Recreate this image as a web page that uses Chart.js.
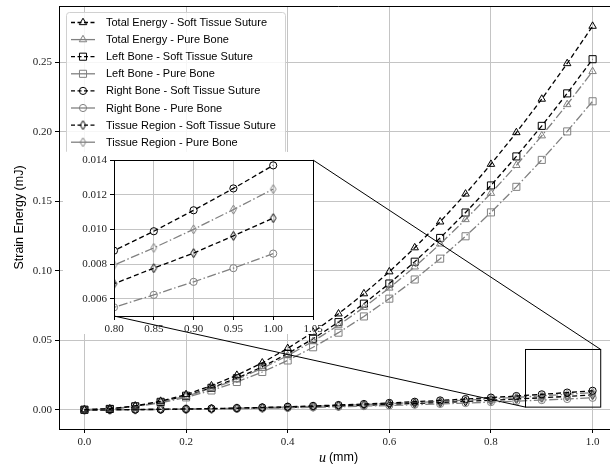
<!DOCTYPE html>
<html>
<head>
<meta charset="utf-8">
<script src="https://cdn.jsdelivr.net/npm/chart.js@4.4.0/dist/chart.umd.min.js"></script>
<style>
html, body { margin: 0; padding: 0; background: #fff; overflow: hidden; width: 610px; height: 467px; }
#wrap { position: relative; width: 625px; height: 467px; }
#wrap canvas { position: absolute; left: 0; top: 0; }
</style>
</head>
<body>
<div id="wrap">
    <canvas id="mainChart" width="625" height="467"></canvas>
    <canvas id="insetChart" width="625" height="467"></canvas>
</div>
<script>
// displacement u (mm)
const displacement = [0, 0.05, 0.10, 0.15, 0.20, 0.25, 0.30, 0.35, 0.40, 0.45, 0.50,
                      0.55, 0.60, 0.65, 0.70, 0.75, 0.80, 0.85, 0.90, 0.95, 1.00];

// strain energy (mJ)
const totalSoft = [0, 0.0007, 0.0028, 0.0062, 0.0110, 0.0173, 0.0249, 0.0338, 0.0442, 0.0559, 0.0691,
                   0.0836, 0.0994, 0.1167, 0.1353, 0.1554, 0.1768, 0.1996, 0.2237, 0.2493, 0.2762];
const totalPure = [0, 0.0006, 0.0024, 0.0055, 0.0097, 0.0152, 0.0219, 0.0298, 0.0390, 0.0493, 0.0609,
                   0.0737, 0.0877, 0.1029, 0.1194, 0.1370, 0.1559, 0.1760, 0.1973, 0.2198, 0.2436];
const leftSoft = [0, 0.0006, 0.0025, 0.0057, 0.0101, 0.0158, 0.0227, 0.0309, 0.0404, 0.0511, 0.0631,
                  0.0764, 0.0909, 0.1066, 0.1237, 0.1420, 0.1615, 0.1824, 0.2044, 0.2278, 0.2524];
const leftPure = [0, 0.0006, 0.0022, 0.0050, 0.0089, 0.0139, 0.0200, 0.0272, 0.0355, 0.0450, 0.0555,
                  0.0672, 0.0800, 0.0938, 0.1088, 0.1249, 0.1421, 0.1605, 0.1799, 0.2004, 0.2221];
const rightSoft = [0, 0.00003, 0.00014, 0.00031, 0.00055, 0.00086, 0.00123, 0.00168, 0.00219, 0.00277, 0.00342,
                   0.00414, 0.00493, 0.00578, 0.00671, 0.00770, 0.00877, 0.00989, 0.01110, 0.01236, 0.01369];
const rightPure = [0, 0.00002, 0.00009, 0.00019, 0.00034, 0.00054, 0.00077, 0.00105, 0.00138, 0.00174, 0.00215,
                   0.00260, 0.00310, 0.00363, 0.00421, 0.00484, 0.00550, 0.00622, 0.00697, 0.00776, 0.00860];
const tissueSoft = [0, 0.00003, 0.00011, 0.00024, 0.00043, 0.00067, 0.00096, 0.00130, 0.00170, 0.00216, 0.00266,
                    0.00322, 0.00383, 0.00450, 0.00522, 0.00599, 0.00686, 0.00776, 0.00863, 0.00962, 0.01065];
const tissuePure = [0, 0.00003, 0.00012, 0.00028, 0.00049, 0.00077, 0.00111, 0.00151, 0.00197, 0.00249, 0.00308,
                    0.00373, 0.00444, 0.00521, 0.00604, 0.00693, 0.00794, 0.00893, 0.01000, 0.01114, 0.01232];

const seriesLabels = [
    'Total Energy - Soft Tissue Suture', 'Total Energy - Pure Bone',
    'Left Bone - Soft Tissue Suture', 'Left Bone - Pure Bone',
    'Right Bone - Soft Tissue Suture', 'Right Bone - Pure Bone',
    'Tissue Region - Soft Tissue Suture', 'Tissue Region - Pure Bone'
];
const seriesValues = [totalSoft, totalPure, leftSoft, leftPure, rightSoft, rightPure, tissueSoft, tissuePure];

const xTicks = [0, 0.2, 0.4, 0.6, 0.8, 1.0];
const yTicks = [0, 0.05, 0.10, 0.15, 0.20, 0.25];
const insetXTicks = [0.80, 0.85, 0.90, 0.95, 1.00, 1.05];
const insetYTicks = [0.006, 0.008, 0.010, 0.012, 0.014];

// zoom window marked on the main axes (data units)
const zoomBox = { x0: 0.868, x1: 1.016, y0: 0.0019, y1: 0.0434 };

const SOFT = '#000000';
const PURE = '#808080';
const GRID = '#c4c4c4';
const tickFont = { family: 'Liberation Serif', size: 11 };

function thinDiamond(color) {
    const c = document.createElement('canvas');
    c.width = 9; c.height = 11;
    const g = c.getContext('2d');
    g.strokeStyle = color;
    g.lineWidth = 1;
    g.beginPath();
    g.moveTo(4.5, 1);
    g.lineTo(7.3, 5.5);
    g.lineTo(4.5, 10);
    g.lineTo(1.7, 5.5);
    g.closePath();
    g.stroke();
    return c;
}

const markers = ['triangle', 'rect', 'circle', 'diamond'];
const markerRadius = { triangle: 4.3, rect: 5, circle: 3.6, diamond: 4 };

function seriesStyle(i) {
    const soft = i % 2 === 0;
    const color = soft ? SOFT : PURE;
    const m = markers[Math.floor(i / 2)];
    return {
        color: color,
        dash: soft ? [5, 3] : [9, 2.5, 1.5, 2.5],
        marker: m === 'diamond' ? thinDiamond(color) : m,
        radius: markerRadius[m]
    };
}

function buildDatasets() {
    return seriesLabels.map((label, i) => {
        const st = seriesStyle(i);
        return {
            label: label,
            data: displacement.map((u, j) => ({ x: u, y: seriesValues[i][j] })),
            borderColor: st.color,
            borderWidth: 1.3,
            borderDash: st.dash,
            pointStyle: st.marker,
            pointRadius: st.radius,
            pointBorderColor: st.color,
            pointBackgroundColor: 'rgba(0,0,0,0)',
            pointBorderWidth: 1,
            tension: 0,
            fill: false
        };
    });
}

function axis(min, max, ticks, digits, size, isX) {
    return {
        type: 'linear',
        min: min,
        max: max,
        afterBuildTicks: s => { s.ticks = ticks.map(v => ({ value: v })); },
        afterFit: s => {
            if (isX) { s.height = size; s.paddingLeft = 0; s.paddingRight = 0; }
            else { s.width = size; s.paddingTop = 0; s.paddingBottom = 0; }
        },
        ticks: {
            font: tickFont,
            color: '#222',
            padding: 3,
            autoSkip: false,
            maxRotation: 0,
            callback: v => Number(v).toFixed(digits)
        },
        grid: { color: GRID, lineWidth: 1, tickColor: '#000', tickLength: 4 },
        border: { color: '#000', width: 1 }
    };
}

const mainDecor = {
    id: 'mainDecor',
    afterDraw(chart) {
        const ctx = chart.ctx;
        const ca = chart.chartArea;
        ctx.save();
        // top and right spines
        ctx.strokeStyle = '#000';
        ctx.lineWidth = 1;
        ctx.beginPath();
        ctx.moveTo(ca.left, ca.top + 0.5);
        ctx.lineTo(ca.right + 0.5, ca.top + 0.5);
        ctx.lineTo(ca.right + 0.5, ca.bottom);
        ctx.stroke();

        // axis titles
        ctx.fillStyle = '#000';
        ctx.textBaseline = 'middle';
        ctx.textAlign = 'center';
        ctx.save();
        ctx.translate(20, (ca.top + ca.bottom) / 2);
        ctx.rotate(-Math.PI / 2);
        ctx.font = '12.5px "Liberation Sans"';
        ctx.fillText('Strain Energy (mJ)', 0, 0);
        ctx.restore();

        const cx = (ca.left + ca.right) / 2;
        ctx.textAlign = 'left';
        ctx.font = 'italic 14px "Liberation Serif"';
        const uw = ctx.measureText('u').width;
        ctx.font = '12.5px "Liberation Sans"';
        const mw = ctx.measureText('(mm)').width;
        const start = cx - (uw + 3 + mw) / 2;
        ctx.font = 'italic 14px "Liberation Serif"';
        ctx.fillText('u', start, 458);
        ctx.font = '12.5px "Liberation Sans"';
        ctx.fillText('(mm)', start + uw + 3, 458);

        // legend
        const lx = ca.left + 7, ly = ca.top + 6, lw = 219, lh = 142;
        ctx.beginPath();
        ctx.roundRect(lx + 0.5, ly + 0.5, lw, lh, 3);
        ctx.fillStyle = 'rgba(255,255,255,0.85)';
        ctx.fill();
        ctx.strokeStyle = '#d0d0d0';
        ctx.stroke();

        chart.data.datasets.forEach((ds, i) => {
            const y = ly + 10.5 + i * 17.1;
            ctx.save();
            ctx.strokeStyle = ds.borderColor;
            ctx.lineWidth = ds.borderWidth;
            ctx.setLineDash(i % 2 === 0 ? [4, 2.5] : []);
            ctx.beginPath();
            ctx.moveTo(lx + 5, y);
            ctx.lineTo(lx + 29, y);
            ctx.stroke();
            ctx.setLineDash([]);
            ctx.lineWidth = 1;
            ctx.strokeStyle = ds.pointBorderColor;
            ctx.fillStyle = 'rgba(0,0,0,0)';
            Chart.helpers.drawPoint(ctx, {
                pointStyle: ds.pointStyle, radius: ds.pointRadius, rotation: 0, borderWidth: 1
            }, lx + 17, y);
            ctx.restore();
            ctx.fillStyle = '#000';
            ctx.font = '11px "Liberation Sans"';
            ctx.textBaseline = 'middle';
            ctx.textAlign = 'left';
            ctx.fillText(ds.label, lx + 40, y + 0.5);
        });
        ctx.restore();
    }
};

const mainChart = new Chart(document.getElementById('mainChart'), {
    type: 'line',
    data: { datasets: buildDatasets() },
    options: {
        responsive: false,
        animation: false,
        layout: { padding: { left: 0, top: 3, right: 7, bottom: 0 } },
        plugins: { legend: { display: false }, tooltip: { enabled: false } },
        scales: {
            x: axis(-0.05, 1.05, xTicks, 1, 38, true),
            y: axis(-0.01385, 0.2907, yTicks, 2, 59, false)
        }
    },
    plugins: [mainDecor]
});

const insetDecor = {
    id: 'insetDecor',
    beforeDraw(chart) {
        const ctx = chart.ctx;
        const ca = chart.chartArea;
        ctx.save();
        ctx.fillStyle = '#fff';
        ctx.fillRect(ca.left - 51, ca.top - 8, ca.right - ca.left + 51, ca.bottom - ca.top + 26);
        ctx.restore();
    },
    afterDraw(chart) {
        const ctx = chart.ctx;
        const ca = chart.chartArea;
        const mx = mainChart.scales.x, my = mainChart.scales.y;
        const bx0 = mx.getPixelForValue(zoomBox.x0), bx1 = mx.getPixelForValue(zoomBox.x1);
        const by0 = my.getPixelForValue(zoomBox.y0), by1 = my.getPixelForValue(zoomBox.y1);
        ctx.save();
        ctx.strokeStyle = '#000';
        ctx.lineWidth = 1;
        ctx.strokeRect(ca.left + 0.5, ca.top + 0.5, ca.right - ca.left, ca.bottom - ca.top);
        ctx.strokeRect(bx0, by1, bx1 - bx0, by0 - by1);
        ctx.beginPath();
        ctx.moveTo(ca.right, ca.top);
        ctx.lineTo(bx1, by1);
        ctx.moveTo(ca.left, ca.bottom);
        ctx.lineTo(bx0, by0);
        ctx.stroke();
        ctx.restore();
    }
};

const insetChart = new Chart(document.getElementById('insetChart'), {
    type: 'line',
    data: { datasets: buildDatasets() },
    options: {
        responsive: false,
        animation: false,
        layout: { padding: { left: 74, top: 160, right: 312, bottom: 131 } },
        plugins: { legend: { display: false }, tooltip: { enabled: false } },
        scales: {
            x: axis(0.80, 1.05, insetXTicks, 2, 20, true),
            y: axis(0.005, 0.014, insetYTicks, 3, 40, false)
        }
    },
    plugins: [insetDecor]
});
</script>
</body>
</html>
